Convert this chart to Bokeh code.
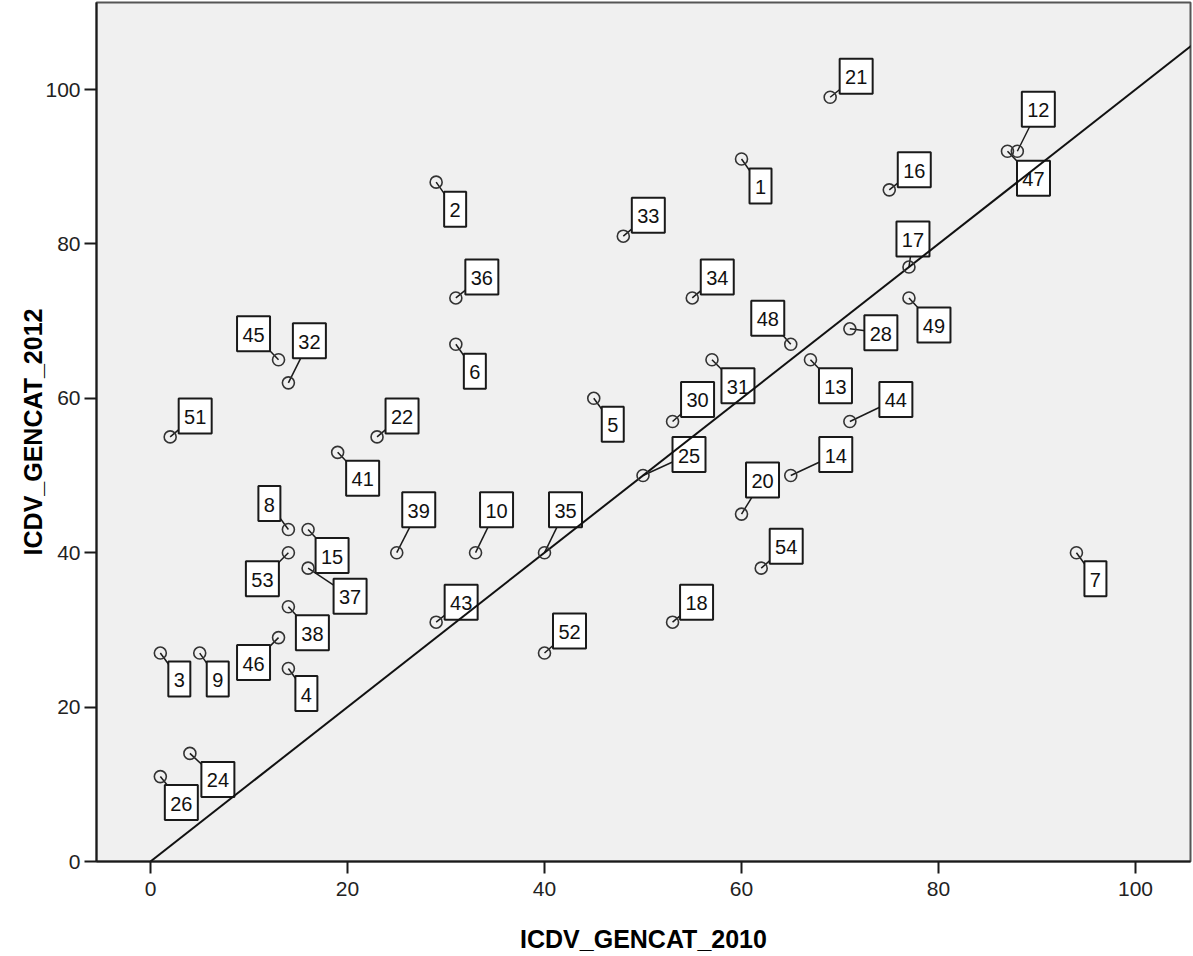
from bokeh.plotting import figure
from bokeh.models import Range1d, FixedTicker, ColumnDataSource
from bokeh.core.properties import value
from bokeh.embed import file_html
from bokeh.resources import INLINE

# ---- data ----
case_id = [1, 2, 3, 4, 5, 6, 7, 8, 9, 10, 12, 13, 14, 15, 16, 17, 18, 20, 21, 22,
           24, 25, 26, 28, 30, 31, 32, 33, 34, 35, 36, 37, 38, 39, 41, 43, 44, 45,
           46, 47, 48, 49, 51, 52, 53, 54]
icdv_2010 = [60, 29, 1, 14, 45, 31, 94, 14, 5, 33, 88, 67, 65, 16, 75, 77, 53, 60, 69, 23,
             4, 50, 1, 71, 53, 57, 14, 48, 55, 40, 31, 16, 14, 25, 19, 29, 71, 13,
             13, 87, 65, 77, 2, 40, 14, 62]
icdv_2012 = [91, 88, 27, 25, 60, 67, 40, 43, 27, 40, 92, 65, 50, 43, 87, 77, 31, 45, 99, 55,
             14, 50, 11, 69, 57, 65, 62, 81, 73, 40, 73, 38, 33, 40, 53, 31, 57, 65,
             29, 92, 67, 73, 55, 27, 40, 38]
x_ticks = [0, 20, 40, 60, 80, 100]
y_ticks = [0, 20, 40, 60, 80, 100]
x_title = "ICDV_GENCAT_2010"
y_title = "ICDV_GENCAT_2012"

# ---- layout: label box offsets from each point, in screen pixels (right, down) ----
label_offset_px = {
    1: (19, 27), 2: (19, 27), 3: (19, 26), 4: (18, 25), 5: (19, 26), 6: (19, 27),
    7: (19, 26), 8: (-19, -26), 9: (18, 26), 10: (21, -43), 12: (21, -42),
    13: (25, 26), 14: (45, -21), 15: (24, 26), 16: (25, -20), 17: (4, -28),
    18: (24, -20), 20: (21, -34), 21: (26, -21), 22: (25, -21), 24: (28, 26),
    25: (46, -21), 26: (21, 26), 28: (31, 4), 30: (25, -22), 31: (26, 26),
    32: (21, -42), 33: (25, -21), 34: (25, -21), 35: (21, -43), 36: (26, -21),
    37: (42, 28), 38: (24, 26), 39: (22, -43), 41: (25, 26), 43: (25, -20),
    44: (46, -22), 45: (-25, -26), 46: (-25, 25), 47: (26, 27), 48: (-23, -26),
    49: (25, 27), 51: (25, -21), 52: (25, -22), 53: (-26, 26), 54: (25, -22),
}

X_START, X_END = -5.48, 105.58
Y_START, Y_END = 0.0, 111.27
W, H = 1192, 955
BL, BR, BT, BB = 96, 2, 2, 94
FRAME_W = W - BL - BR
FRAME_H = H - BT - BB
sx = FRAME_W / (X_END - X_START)
sy = FRAME_H / (Y_END - Y_START)

lx, ly, bw, txt = [], [], [], []
for c, xv, yv in zip(case_id, icdv_2010, icdv_2012):
    dx, dy = label_offset_px[c]
    lx.append(xv + dx / sx)
    ly.append(yv - dy / sy)
    bw.append(33 if c >= 10 else 22)
    txt.append(str(c))

src = ColumnDataSource(dict(x=icdv_2010, y=icdv_2012, lx=lx, ly=ly, bw=bw, txt=txt))

FONT = "Liberation Sans"

p = figure(width=W, height=H, x_range=Range1d(X_START, X_END), y_range=Range1d(Y_START, Y_END),
           output_backend="svg", toolbar_location=None,
           min_border_left=BL, min_border_right=BR, min_border_top=BT, min_border_bottom=BB)

p.background_fill_color = "#F0F0F0"
p.border_fill_color = "white"
p.outline_line_color = "#555555"
p.outline_line_width = 2
p.xgrid.visible = False
p.ygrid.visible = False

for ax in (p.xaxis[0], p.yaxis[0]):
    ax.axis_line_color = "#1a1a1a"
    ax.axis_line_width = 2
    ax.major_tick_line_color = "#1a1a1a"
    ax.major_tick_line_width = 2
    ax.major_tick_out = 12
    ax.major_tick_in = 0
    ax.minor_tick_out = 0
    ax.minor_tick_in = 0
    ax.major_label_text_font = FONT
    ax.major_label_text_font_size = "21px"
    ax.major_label_text_color = "#222222"
    ax.axis_label_text_font = FONT
    ax.axis_label_text_font_size = "25px"
    ax.axis_label_text_font_style = "bold"
    ax.axis_label_text_color = "#000000"

p.xaxis.ticker = FixedTicker(ticks=x_ticks)
p.yaxis.ticker = FixedTicker(ticks=y_ticks)
p.xaxis.axis_label = x_title
p.yaxis.axis_label = y_title
p.xaxis.major_label_standoff = 8
p.xaxis.axis_label_standoff = 26
p.yaxis.major_label_standoff = 4
p.yaxis.axis_label_standoff = -5

# connector lines, label boxes, label text
p.segment(x0="x", y0="y", x1="lx", y1="ly", source=src, line_color="#1a1a1a", line_width=1.5)
p.rect(x="lx", y="ly", width="bw", height=35, width_units="screen", height_units="screen",
       source=src, fill_color="white", line_color="#1a1a1a", line_width=2)
p.text(x="lx", y="ly", text="txt", source=src, text_align="center", text_baseline="middle",
       text_font=value(FONT), text_font_size="20px", text_color="#111111", y_offset=1)

# y = x reference line
p.line(x=[0, X_END + 5], y=[0, X_END + 5], line_color="#111111", line_width=2)

# points
p.scatter(x="x", y="y", source=src, marker="circle", size=12, fill_color=None,
          line_color="#333333", line_width=1.6)

open("out.html", "w").write(file_html(p, INLINE))
